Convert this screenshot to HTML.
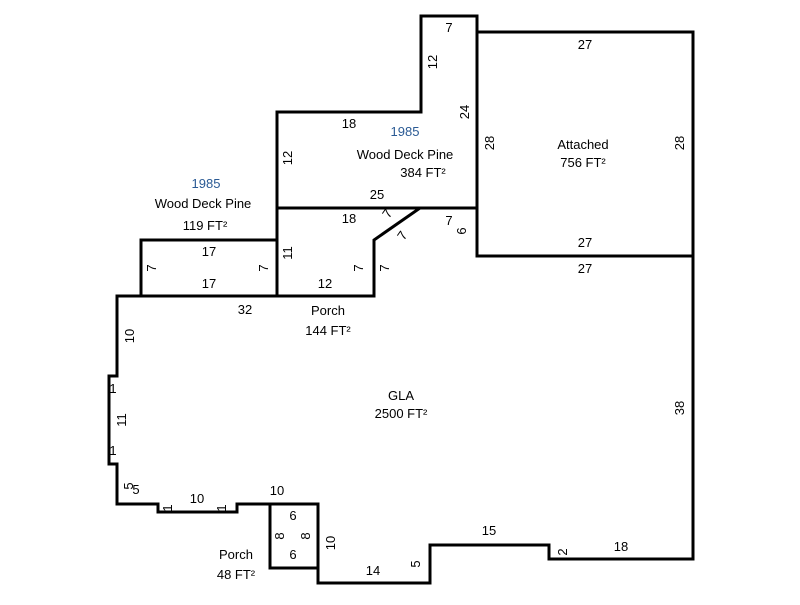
<!DOCTYPE html>
<html><head><style>body{margin:0;background:#fff}</style></head><body>
<svg width="800" height="600" xmlns="http://www.w3.org/2000/svg" font-family="Liberation Sans, sans-serif" font-size="13" text-anchor="middle">
<rect width="800" height="600" fill="#fff"/>
<g fill="none" stroke="#000" stroke-width="3">
<polygon points="117,296 374,296 374,240 420,208 477,208 477,256 693,256 693,559 549,559 549,545 430,545 430,583 318,583 318,504 237,504 237,512 158,512 158,504 117,504 117,464 109,464 109,376 117,376"/>
<rect x="270" y="504" width="48" height="64"/>
<rect x="141" y="240" width="136" height="56"/>
<polyline points="277,296 277,112 421,112 421,16 477,16 477,208"/>
<line x1="277" y1="208" x2="420" y2="208"/>
<rect x="477" y="32" width="216" height="224"/>
</g>
<g fill="#000">
<text x="449" y="32">7</text>
<text x="585" y="49">27</text>
<text x="349" y="128">18</text>
<text x="377" y="199">25</text>
<text x="349" y="223">18</text>
<text x="449" y="225">7</text>
<text x="585" y="247">27</text>
<text x="585" y="273">27</text>
<text x="209" y="256">17</text>
<text x="209" y="288">17</text>
<text x="325" y="288">12</text>
<text x="245" y="314">32</text>
<text x="197" y="503">10</text>
<text x="277" y="495">10</text>
<text x="293" y="520">6</text>
<text x="293" y="559">6</text>
<text x="489" y="535">15</text>
<text x="621" y="551">18</text>
<text x="373" y="575">14</text>
<text x="136" y="494">5</text>
<text x="113" y="393">1</text>
<text x="113" y="455">1</text>
<text x="583" y="149">Attached</text>
<text x="583" y="167">756 FT²</text>
<text x="405" y="159">Wood Deck Pine</text>
<text x="423" y="177">384 FT²</text>
<text x="203" y="208">Wood Deck Pine</text>
<text x="205" y="230">119 FT²</text>
<text x="328" y="315">Porch</text>
<text x="328" y="335">144 FT²</text>
<text x="401" y="400">GLA</text>
<text x="401" y="418">2500 FT²</text>
<text x="236" y="559">Porch</text>
<text x="236" y="579">48 FT²</text>
</g>
<g fill="#2a5a94">
<text x="405" y="136">1985</text>
<text x="206" y="188">1985</text>
</g>
<g fill="#000">
<text transform="translate(437,62) rotate(-90)">12</text>
<text transform="translate(469,112) rotate(-90)">24</text>
<text transform="translate(494,143) rotate(-90)">28</text>
<text transform="translate(684,143) rotate(-90)">28</text>
<text transform="translate(292,158) rotate(-90)">12</text>
<text transform="translate(292,253) rotate(-90)">11</text>
<text transform="translate(466,231) rotate(-90)">6</text>
<text transform="translate(156,268) rotate(-90)">7</text>
<text transform="translate(268,268) rotate(-90)">7</text>
<text transform="translate(363,268) rotate(-90)">7</text>
<text transform="translate(389,268) rotate(-90)">7</text>
<text transform="translate(391,216) rotate(-55)">7</text>
<text transform="translate(406,238) rotate(-55)">7</text>
<text transform="translate(134,336) rotate(-90)">10</text>
<text transform="translate(126,420) rotate(-90)">11</text>
<text transform="translate(684,408) rotate(-90)">38</text>
<text transform="translate(335,543) rotate(-90)">10</text>
<text transform="translate(420,564) rotate(-90)">5</text>
<text transform="translate(567,552) rotate(-90)">2</text>
<text transform="translate(284,536) rotate(-90)">8</text>
<text transform="translate(310,536) rotate(-90)">8</text>
<text transform="translate(133,486) rotate(-90)">5</text>
<text transform="translate(172,508) rotate(-90)">1</text>
<text transform="translate(226,508) rotate(-90)">1</text>
</g>
</svg>
</body></html>
